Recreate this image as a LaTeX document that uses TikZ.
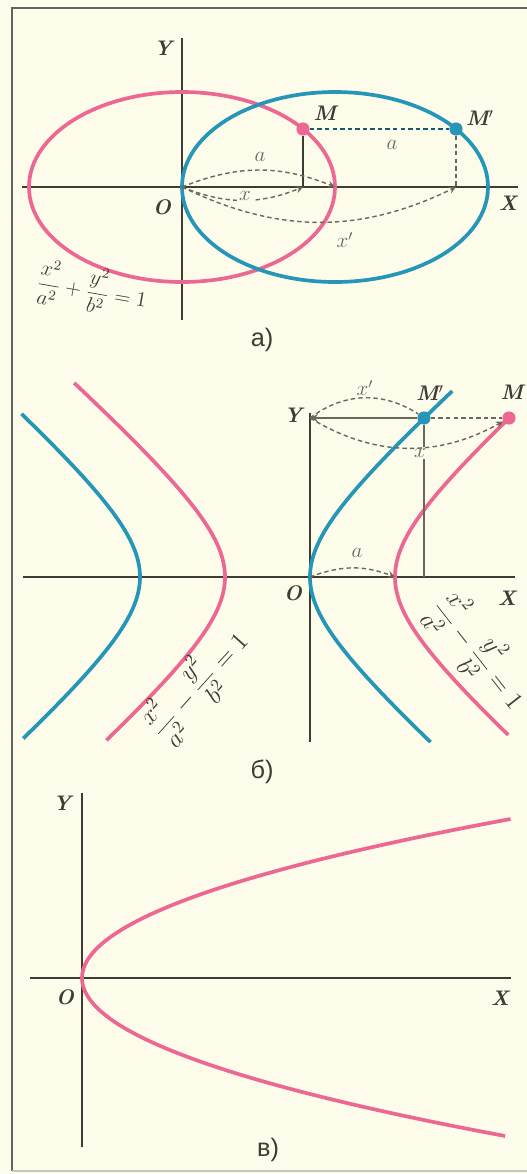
\documentclass[tikz,border=0pt]{standalone}
\usepackage{fontspec}
\newfontfamily\capfont{Liberation Sans}
\begin{document}
\begin{tikzpicture}[>=stealth, x=0.02cm, y=-0.02cm,
    axis/.style={draw=axisc, line width=1.1pt},
    pinkcurve/.style={draw=pinkc, line width=2.1pt},
    bluecurve/.style={draw=bluec, line width=2.1pt},
    guide/.style={draw=guidec, line width=0.8pt, dash pattern=on 2.5pt off 1.8pt},
    lbl/.style={font=\large\bfseries\itshape, text=axisc},
    sml/.style={font=\large, text=guidec},
    captionlbl/.style={font=\Large\capfont, text=axisc},
    dot/.style={circle, inner sep=0pt, minimum size=7.5pt}]
            \definecolor{paper}{RGB}{253,251,234}
            \definecolor{pinkc}{RGB}{236,104,146}
            \definecolor{bluec}{RGB}{38,150,184}
            \definecolor{axisc}{RGB}{62,60,52}
            \definecolor{guidec}{RGB}{105,104,95}
            \useasboundingbox (0,0) rectangle (527,1174);
            \fill[paper] (0,0) rectangle (527,1174);
            \draw[axisc!80, line width=1.2pt] (527,8) -- (12,8) -- (12,1171);
            \draw[axisc!30, line width=1pt] (12,1171) -- (527,1171);
            % а) ellipse
            \coordinate (O1) at (182,187);
            \coordinate (A1) at (335,187);
            \coordinate (F1) at (303,187);
            \coordinate (F1p) at (456,187);
            \draw[axis] (22,187) -- (518,187);
            \draw[axis] (182,38) -- (182,320);
            \draw[pinkcurve] (O1) ellipse [x radius=153, y radius=95];
            \draw[bluecurve] (A1) ellipse [x radius=153, y radius=95];
            \node[dot,fill=pinkc] (M1) at (303,129) {};
            \node[dot,fill=bluec] (M1p) at (456,129) {};
            \draw[axisc, line width=1pt] (M1) -- (F1);
            \draw[guide, draw=bluec!60!black] (M1) -- (M1p);
            \draw[guide] (M1p) -- (F1p);
            \draw[guide,->] (O1) to[bend left=22] (A1);
            \draw[guide,->] (O1) to[bend right=22] (F1);
            \draw[guide,->] (O1) to[bend right=26] (F1p);
            \node[lbl] (Y1) at (163,48) {Y};
            \node[lbl] (O1l) at (162,207) {O};
            \node[lbl] (X1) at (508,203) {X};
            \node[lbl] (M1l) at (325,113) {M};
            \node[lbl] (M1pl) at (480,118) {M$'$};
            \node[sml] (a1) at (260,157) {$a$};
            \node[sml] (a1b) at (392,145) {$a$};
            \node[sml, fill=paper, inner sep=1pt] (x1) at (245,196) {$x$};
            \node[sml] (x1p) at (345,240) {$x'$};
            \node[rotate=-10, text=axisc, font=\large] (eq1) at (92,290) {$\displaystyle\frac{x^2}{a^2}+\frac{y^2}{b^2}=1$};
            \node[captionlbl] (c1) at (262,340) {а)};
            % б) hyperbola
            \coordinate (O2) at (310,577);
            \coordinate (A2) at (395,577);
            \coordinate (Y2) at (310,418);
            \coordinate (F2) at (424,577);
            \draw[axis] (23,577) -- (515,577);
            \draw[axis] (310,413) -- (310,742);
            \draw[pinkcurve] plot[domain=-1.49:1.496, samples=50, smooth] ({310+85*cosh(\x)},{577-75*sinh(\x)});
            \draw[pinkcurve] plot[domain=-1.52:1.68, samples=50, smooth] ({310-85*cosh(\x)},{577-75*sinh(\x)});
            \draw[bluecurve] plot[domain=-1.53:1.64, samples=50, smooth] ({225+85*cosh(\x)},{577-75*sinh(\x)});
            \draw[bluecurve] plot[domain=-1.51:1.52, samples=50, smooth] ({225-85*cosh(\x)},{577-75*sinh(\x)});
            \node[dot,fill=bluec] (M2p) at (424,418) {};
            \node[dot,fill=pinkc] (M2) at (509,418) {};
            \draw[guidec, line width=1pt, ->] (M2p) -- (Y2);
            \draw[guide] (M2p) -- (M2);
            \draw[guidec, line width=0.8pt] (M2p) -- (F2);
            \node[sml, fill=paper, inner sep=1pt] (x2) at (420,453) {$x$};
            \draw[guide] (Y2) to[bend left=35] (M2p);
            \draw[guide,->] (Y2) to[bend right=30] (M2);
            \draw[guide,->] (O2) to[bend left=21] (A2);
            \node[lbl] (Y2l) at (293,415) {Y};
            \node[lbl] (O2l) at (293,593) {O};
            \node[lbl] (X2) at (507,598) {X};
            \node[lbl] (M2pl) at (430,393) {M$'$};
            \node[lbl] (M2l) at (512,392) {M};
            \node[sml] (x2p) at (365,388) {$x'$};
            \node[sml] (a2) at (357,553) {$a$};
            \node[rotate=48, text=axisc, font=\Large] (eq2) at (198,684) {$\displaystyle\frac{x^2}{a^2}-\frac{y^2}{b^2}=1$};
            \node[rotate=-52, text=axisc, font=\Large] (eq3) at (479,653) {$\displaystyle\frac{x^2}{a^2}-\frac{y^2}{b^2}=1$};
            \node[captionlbl] (c2) at (262,772) {б)};
            % в) parabola
            \draw[axis] (30,978) -- (511,978);
            \draw[axis] (82,793) -- (82,1147);
            \draw[pinkcurve] plot[domain=-15.9:15.8, samples=60, smooth] ({82+1.695*\x*\x},{978+10*\x});
            \node[lbl] (Y3) at (62,803) {Y};
            \node[lbl] (O3l) at (65,997) {O};
            \node[lbl] (X3) at (500,998) {X};
            \node[captionlbl] (c3) at (268,1150) {в)};
\end{tikzpicture}
\end{document}
